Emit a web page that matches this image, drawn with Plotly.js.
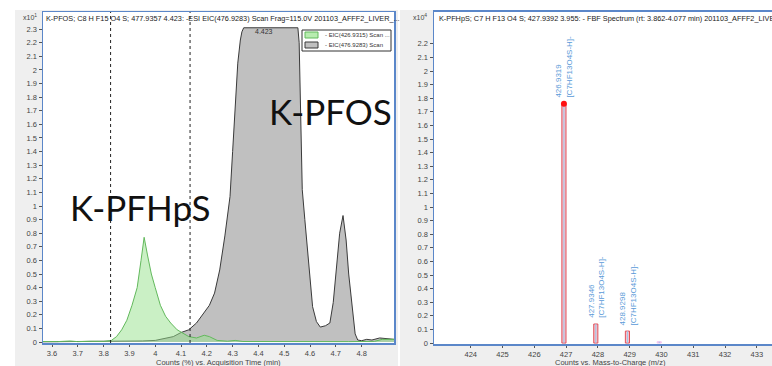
<!DOCTYPE html>
<html><head><meta charset="utf-8">
<script src="https://cdn.plot.ly/plotly-3.0.1.min.js"></script>
<style>html,body{margin:0;padding:0;background:#efefef;}#chart{width:772px;height:366px;}</style>
</head><body><div id="chart"></div>
<script>
// ---- Left panel: extracted ion chromatograms ----
const timeGreen = [3.565,3.62,3.67,3.70,3.75,3.80,3.83,3.85,3.87,3.89,3.91,3.93,3.945,3.957,3.97,3.985,4.00,4.02,4.04,4.06,4.085,4.11,4.13,4.16,4.19,4.21,4.24,4.28,4.31,4.34,4.45,4.60,4.75,4.85,4.88,4.9256];
const countsGreen = [0.004,0.003,0.008,0.003,0.006,0.005,0.012,0.04,0.09,0.16,0.27,0.40,0.60,0.77,0.64,0.50,0.40,0.27,0.19,0.14,0.09,0.06,0.04,0.03,0.05,0.04,0.012,0.006,0.012,0.004,0.003,0.003,0.003,0.005,0.02,0.02];
const timeGray = [3.565,3.70,3.80,3.90,3.95,4.00,4.04,4.07,4.10,4.13,4.16,4.19,4.21,4.23,4.25,4.27,4.29,4.30,4.31,4.32,4.33,4.336,4.343,4.45,4.553,4.558,4.565,4.57,4.58,4.59,4.60,4.61,4.625,4.64,4.66,4.677,4.69,4.70,4.715,4.728,4.74,4.75,4.763,4.775,4.785,4.80,4.82,4.84,4.87,4.90,4.9256];
const countsGray = [0.002,0.003,0.004,0.006,0.008,0.012,0.025,0.04,0.07,0.09,0.14,0.22,0.27,0.36,0.53,0.78,1.07,1.40,1.75,2.05,2.22,2.28,2.31,2.31,2.31,2.2,1.6,1.12,0.90,0.70,0.45,0.26,0.15,0.11,0.12,0.14,0.29,0.52,0.80,0.93,0.75,0.50,0.26,0.06,0.015,0.01,0.02,0.015,0.03,0.025,0.02];
const seriesNames = ["- EIC(426.9315) Scan ...", "- EIC(476.9283) Scan"];
const integrationBounds = [3.827, 4.135];
const apexTime = 4.423;
const apexLabel = "4.423";
const compoundLabels = ["K-PFHpS", "K-PFOS"];
const leftXTicks = [3.6,3.7,3.8,3.9,4.0,4.1,4.2,4.3,4.4,4.5,4.6,4.7,4.8];
const leftXTickText = ["3.6","3.7","3.8","3.9","4","4.1","4.2","4.3","4.4","4.5","4.6","4.7","4.8"];
const leftYTicks = [0,0.1,0.2,0.3,0.4,0.5,0.6,0.7,0.8,0.9,1,1.1,1.2,1.3,1.4,1.5,1.6,1.7,1.8,1.9,2,2.1,2.2,2.3];
const leftYTickText = ["0","0.1","0.2","0.3","0.4","0.5","0.6","0.7","0.8","0.9","1","1.1","1.2","1.3","1.4","1.5","1.6","1.7","1.8","1.9","2","2.1","2.2","2.3"];
const leftTitle = "K-PFOS; C8 H F15 O4 S; 477.9357 4.423: -ESI EIC(476.9283) Scan Frag=115.0V 201103_AFFF2_LIVER_...";
const leftXTitle = "Counts (%) vs. Acquisition Time (min)";

// ---- Right panel: mass spectrum ----
const mzValues = [426.9319, 427.9346, 428.9298, 429.93];
const mzCounts = [1.76, 0.14, 0.088, 0.01];
const mzLabels = ["426.9319<br>[C7HF13O4S-H]-", "427.9346<br>[C7HF13O4S-H]-", "428.9298<br>[C7HF13O4S-H]-", ""];
const rightXTicks = [424,425,426,427,428,429,430,431,432,433];
const rightXTickText = ["424","425","426","427","428","429","430","431","432","433"];
const rightYTicks = [0,0.1,0.2,0.3,0.4,0.5,0.6,0.7,0.8,0.9,1,1.1,1.2,1.3,1.4,1.5,1.6,1.7,1.8,1.9,2,2.1,2.2];
const rightYTickText = ["0","0.1","0.2","0.3","0.4","0.5","0.6","0.7","0.8","0.9","1","1.1","1.2","1.3","1.4","1.5","1.6","1.7","1.8","1.9","2","2.1","2.2"];
const rightTitle = "K-PFHpS; C7 H F13 O4 S; 427.9392 3.955: - FBF Spectrum (rt: 3.862-4.077 min) 201103_AFFF2_LIVER_0...";
const rightXTitle = "Counts vs. Mass-to-Charge (m/z)";

const W = 772, H = 366;
const px = v => v / W, py = v => 1 - v / H;
const FONT = "Liberation Sans, Arial, sans-serif";
const tickFont = {family: FONT, size: 7.5, color: "#444"};
const frameBlue = "#5b87c9";

const stemX = [], stemY = [];
mzValues.forEach((m, i) => { stemX.push(m, m, null); stemY.push(0, mzCounts[i], null); });

const traces = [
  {x: timeGray, y: countsGray, type: "scatter", mode: "lines", fill: "tozeroy",
   fillcolor: "#c0c0c0", line: {color: "#3a3a3a", width: 1}, xaxis: "x", yaxis: "y", name: seriesNames[1], hoverinfo: "skip"},
  {x: timeGreen, y: countsGreen, type: "scatter", mode: "lines", fill: "tozeroy",
   fillcolor: "rgba(150,225,140,0.5)", line: {color: "#62b95c", width: 1}, xaxis: "x", yaxis: "y", name: seriesNames[0], hoverinfo: "skip"},
  {x: mzValues, y: mzCounts, type: "bar", width: 0.13, xaxis: "x2", yaxis: "y2",
   marker: {color: ["#f6c3cb","#f6c3cb","#f6c3cb","#f3c6ee"], line: {color: ["#e0505c","#e0505c","#e0505c","#f3c6ee"], width: 1}}, hoverinfo: "skip"},
  {x: stemX, y: stemY, type: "scatter", mode: "lines", line: {color: "#9ec4ea", width: 1}, xaxis: "x2", yaxis: "y2", hoverinfo: "skip"},
  {x: [mzValues[0]], y: [mzCounts[0]], type: "scatter", mode: "markers", marker: {color: "#ff1010", size: 6}, xaxis: "x2", yaxis: "y2", hoverinfo: "skip"}
];

function note(x, y, text, font, xa, ya, extra) {
  return Object.assign({xref: "paper", yref: "paper", x: x, y: y, text: text, font: font,
    xanchor: xa || "center", yanchor: ya || "middle", showarrow: false}, extra || {});
}
const annotations = [
  note(px(44), py(18), leftTitle, {family: FONT, size: 7.3, color: "#222"}, "left"),
  note(px(437), py(18), rightTitle, {family: FONT, size: 7.3, color: "#222"}, "left"),
  note(px(30), py(17), "x10<sup>1</sup>", {family: FONT, size: 7, color: "#444"}),
  note(px(420), py(17), "x10<sup>4</sup>", {family: FONT, size: 7, color: "#444"}),
  note(px(218), py(362.5), leftXTitle, {family: FONT, size: 7.5, color: "#444"}),
  note(px(610), py(362.5), rightXTitle, {family: FONT, size: 7.5, color: "#444"}),
  {xref: "x", yref: "paper", x: apexTime, y: py(32), xanchor: "center", yanchor: "middle", showarrow: false, text: apexLabel, font: {family: FONT, size: 7, color: "#333"}},
  note(px(140), py(207), compoundLabels[0], {family: "Lato, sans-serif", size: 35, color: "#111"}),
  note(px(330), py(111), compoundLabels[1], {family: "Lato, sans-serif", size: 35, color: "#111"}),
  note(px(323), py(35), seriesNames[0], {family: FONT, size: 6, color: "#333"}, "left"),
  note(px(323), py(45), seriesNames[1], {family: FONT, size: 6, color: "#333"}, "left")
];
mzValues.forEach((m, i) => {
  if (!mzLabels[i]) return;
  annotations.push({xref: "x2", yref: "y2", x: m, y: mzCounts[i], yshift: 4, xanchor: "center", yanchor: "bottom",
    textangle: -90, align: "left", showarrow: false, text: mzLabels[i],
    font: {family: FONT, size: 8, color: "#5a9ad8"}});
});

const shapes = [
  {type: "rect", xref: "paper", yref: "paper", x0: 0, x1: 1, y0: py(10), y1: 1, fillcolor: "#ffffff", line: {width: 0}, layer: "below"},
  {type: "rect", xref: "paper", yref: "paper", x0: 0, x1: px(15), y0: 0, y1: 1, fillcolor: "#ffffff", line: {width: 0}, layer: "below"},
  {type: "line", xref: "paper", yref: "paper", x0: px(399), x1: px(399), y0: 0, y1: py(10), line: {color: "#ffffff", width: 2}, layer: "below"},
  // legend box
  {type: "rect", xref: "paper", yref: "paper", x0: px(302), x1: px(391), y0: py(51), y1: py(30), fillcolor: "#ffffff", line: {color: "#333", width: 1}},
  {type: "rect", xref: "paper", yref: "paper", x0: px(305), x1: px(318), y0: py(38), y1: py(32), fillcolor: "#b8ecb0", line: {color: "#62b95c", width: 1}},
  {type: "rect", xref: "paper", yref: "paper", x0: px(305), x1: px(318), y0: py(48), y1: py(42), fillcolor: "#c0c0c0", line: {color: "#3a3a3a", width: 1}}
];
integrationBounds.forEach(t => shapes.push({type: "line", xref: "x", yref: "y domain", x0: t, x1: t, y0: 0, y1: 1,
  line: {color: "#222", width: 1, dash: "dot"}}));

const layout = {
  width: W, height: H, margin: {l: 0, r: 0, t: 0, b: 0},
  paper_bgcolor: "#efefef", plot_bgcolor: "#ffffff", showlegend: false,
  xaxis: {domain: [px(43), px(394)], range: [3.565, 4.9256], tickvals: leftXTicks, ticktext: leftXTickText,
    ticks: "outside", ticklen: 2, tickcolor: "#555", tickfont: tickFont, showgrid: false, zeroline: false,
    showline: true, mirror: true, linecolor: frameBlue, linewidth: 1.5},
  yaxis: {domain: [py(343), py(12)], range: [-0.007, 2.426], tickvals: leftYTicks, ticktext: leftYTickText,
    ticks: "outside", ticklen: 3, tickcolor: "#555", tickfont: tickFont, showgrid: false, zeroline: false,
    showline: true, mirror: true, linecolor: frameBlue, linewidth: 1.5},
  xaxis2: {domain: [px(434), 1], range: [422.844, 433.478], tickvals: rightXTicks, ticktext: rightXTickText, anchor: "y2",
    ticks: "outside", ticklen: 2, tickcolor: "#555", tickfont: tickFont, showgrid: false, zeroline: false,
    showline: true, mirror: true, linecolor: frameBlue, linewidth: 2},
  yaxis2: {domain: [py(344), py(12)], range: [-0.007, 2.434], tickvals: rightYTicks, ticktext: rightYTickText, anchor: "x2",
    ticks: "outside", ticklen: 3, tickcolor: "#555", tickfont: tickFont, showgrid: false, zeroline: false,
    showline: true, mirror: true, linecolor: frameBlue, linewidth: 1.5},
  annotations: annotations, shapes: shapes, bargap: 0
};
Plotly.newPlot("chart", traces, layout, {displayModeBar: false, staticPlot: true});
</script></body></html>
